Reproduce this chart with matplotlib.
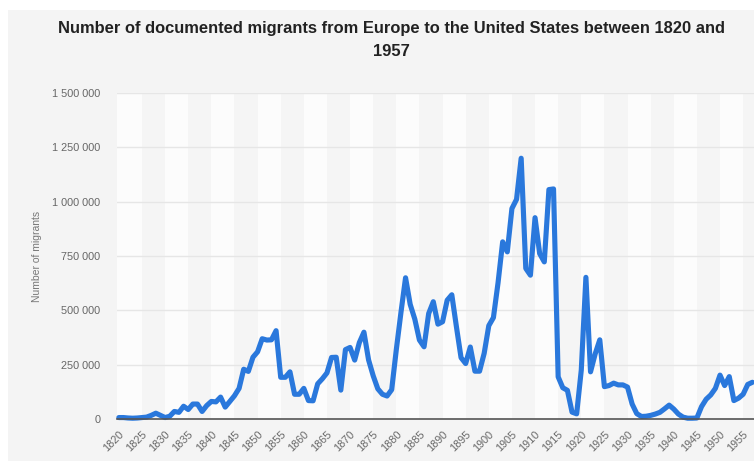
import matplotlib
matplotlib.use("Agg")
import matplotlib.pyplot as plt
from matplotlib.patches import Rectangle

plt.rcParams['font.family'] = ['Liberation Sans', 'DejaVu Sans']

# yearly migrants from Europe
years = list(range(1820, 1958))
migrants = [
    8000, 8000, 6000, 5000, 6000, 8000, 10000, 18000, 28000, 18000,      # 1820-1829
    8000, 14000, 36000, 32000, 60000, 45000, 70000, 70000, 36000, 63000,  # 1830s
    82000, 80000, 102000, 56000, 82000, 108000, 142000, 230000, 220000, 285000,  # 1840s
    310000, 370000, 364000, 365000, 407000, 193000, 193000, 218000, 115000, 115000,  # 1850s
    142000, 86000, 85000, 163000, 186000, 213000, 284000, 285000, 134000, 320000,  # 1860s
    330000, 272000, 352000, 400000, 273000, 200000, 140000, 115000, 107000, 136000,  # 1870s
    320000, 490000, 650000, 528000, 460000, 364000, 333000, 486000, 540000, 437000,  # 1880s
    448000, 547000, 572000, 425000, 283000, 256000, 332000, 221000, 221000, 303000,  # 1890s
    430000, 467000, 627000, 815000, 769000, 968000, 1010000, 1199000, 693000, 662000,  # 1900s
    926000, 761000, 723000, 1055000, 1058000, 195000, 145000, 133000, 33000, 25000,  # 1910s
    226000, 652000, 218000, 300000, 365000, 150000, 155000, 166000, 158000, 158000,  # 1920s
    148000, 70000, 26000, 13000, 14000, 18000, 24000, 32000, 48000, 65000,  # 1930s
    47000, 24000, 10000, 5000, 5000, 6000, 58000, 92000, 112000, 142000,  # 1940s
    203000, 155000, 196000, 86000, 97000, 115000, 160000, 170000,  # 1950-1957
]
x_ticks = list(range(1820, 1956, 5))
y_ticks = [0, 250000, 500000, 750000, 1000000, 1250000, 1500000]
y_tick_labels = ["0", "250 000", "500 000", "750 000", "1 000 000", "1 250 000", "1 500 000"]

fig = plt.figure(figsize=(7.54, 4.61), dpi=100, facecolor='white')
# grey card behind the chart, with a thin white margin top and left
fig.patches.append(Rectangle((8 / 754, 0), 1, 1 - 10 / 461, transform=fig.transFigure,
                             facecolor='#f4f4f4', edgecolor='none', zorder=-10))

ax = fig.add_axes([117 / 754, 41.7 / 461, 637 / 754, 326.6 / 461])
ax.set_facecolor('#fcfcfc')

for start in range(1825, 1960, 10):
    ax.axvspan(start, start + 5, color='#f5f5f5', lw=0, zorder=0)

ax.plot(years, migrants, color='#2a78dc', lw=3.7, solid_joinstyle='round',
        solid_capstyle='round', zorder=3, clip_on=False)

ax.set_xlim(1819.6, 1957.35)
ax.set_ylim(0, 1500000)
ax.set_yticks(y_ticks)
ax.set_yticklabels(y_tick_labels)
ax.set_xticks(x_ticks)
ax.set_xticklabels([str(t) for t in x_ticks], rotation=45, ha='right', va='top',
                   rotation_mode='anchor')
ax.tick_params(axis='both', length=0, colors='#666666', labelsize=7.8)
ax.tick_params(axis='y', pad=12)
ax.tick_params(axis='x', pad=7)
ax.grid(axis='y', color='#e6e6e6', lw=1)
ax.set_axisbelow(True)
for side in ['top', 'right', 'left']:
    ax.spines[side].set_visible(False)
ax.spines['bottom'].set_color('#555555')
ax.spines['bottom'].set_linewidth(1.2)
ax.spines['bottom'].set_zorder(4)

ax.set_ylabel('Number of migrants', color='#777777', fontsize=7.5)
ax.yaxis.set_label_coords(-0.118, 0.5)

fig.text(391 / 754, 1 - 40 / 461,
         'Number of documented migrants from Europe to the United States between 1820 and\n1957',
         ha='center', va='center', fontsize=11.9, fontweight='bold', color='#222222',
         linespacing=1.75)

fig.savefig('out.png', dpi=100, facecolor=fig.get_facecolor())
